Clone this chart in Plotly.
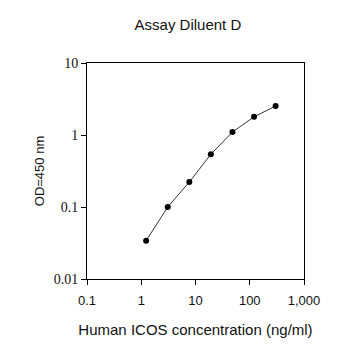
import plotly.graph_objects as go

concentration = [1.23, 3.08, 7.7, 19.2, 48, 120, 300]
od450 = [0.034, 0.1, 0.222, 0.54, 1.1, 1.79, 2.52]
x_tickvals = [0.1, 1, 10, 100, 1000]
x_ticktext = ["0.1", "1", "10", "100", "1,000"]
y_tickvals = [0.01, 0.1, 1, 10]
y_ticktext = ["0.01", "0.1", "1", "10"]

fig = go.Figure()
fig.add_trace(go.Scatter(
    x=concentration, y=od450, mode="lines+markers",
    line=dict(color="#333333", width=1),
    marker=dict(color="black", size=6),
    showlegend=False,
))

fig.update_layout(
    width=358, height=351,
    margin=dict(l=87, r=54, t=63, b=72),
    paper_bgcolor="white", plot_bgcolor="white",
    title=dict(text="Assay Diluent D", x=0.525, xanchor="center", y=0.929, yanchor="middle",
               font=dict(family="Liberation Sans, Arial", size=15, color="#111")),
)
fig.update_xaxes(
    type="log", range=[-1, 3], tickvals=x_tickvals, ticktext=x_ticktext,
    showgrid=False, zeroline=False, showline=True, linecolor="black", linewidth=1,
    mirror=True, ticks="outside", ticklen=5, tickcolor="black",
    ticklabelstandoff=4,
    tickfont=dict(family="Liberation Sans, Arial", size=13, color="#111"),
    title=dict(text="Human ICOS concentration (ng/ml)", standoff=17,
               font=dict(family="Liberation Sans, Arial", size=15, color="#111")),
)
fig.update_yaxes(
    type="log", range=[-2, 1], tickvals=y_tickvals, ticktext=y_ticktext,
    showgrid=False, zeroline=False, showline=True, linecolor="black", linewidth=1,
    mirror=True, ticks="outside", ticklen=5, tickcolor="black",
    tickfont=dict(family="Liberation Serif, Times New Roman", size=14, color="#111"),
    title=dict(text="OD=450 nm", standoff=6,
               font=dict(family="Liberation Sans, Arial", size=13, color="#111")),
)

fig.write_html("out.html")
